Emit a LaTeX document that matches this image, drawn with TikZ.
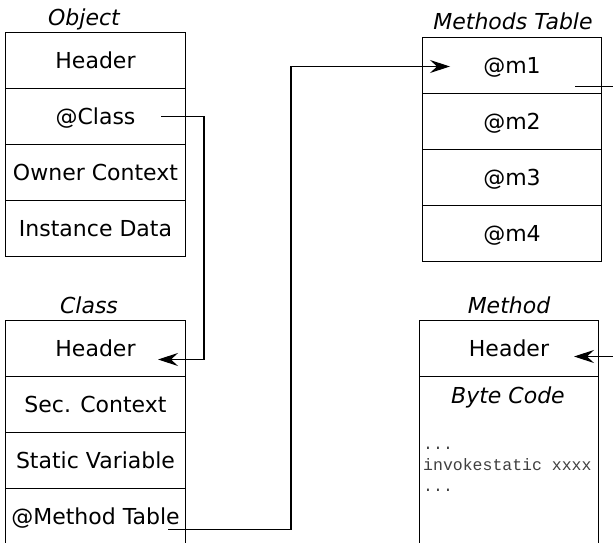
\documentclass[tikz,border=0pt]{standalone}
\usepackage{fontspec}
\setmainfont{DejaVu Sans}
\newfontfamily\codefont{Liberation Mono}
\usetikzlibrary{arrows.meta}

\begin{document}
\begin{tikzpicture}[x=1pt,y=-1pt,
  cell/.style={draw=black, line width=1pt, minimum width=180pt, minimum height=56pt,
    inner sep=0pt, anchor=north west, font=\fontsize{22}{26}\selectfont,
    text height=16pt, text depth=0pt},
  title/.style={anchor=base, inner sep=0pt, font=\fontsize{22}{26}\selectfont\itshape},
  code/.style={anchor=base west, inner sep=0pt, text=black!75,
    font=\codefont\fontsize{16.5}{21}\selectfont},
  link/.style={line width=1.1pt, -{Stealth[length=20pt,width=13pt,inset=7pt]}},
]
\clip (0,0) rectangle (613,543);

% Object
\node[title] (tobj) at (84,26) {Object};
\node[cell] (oh) at (5,32)  {Header};
\node[cell] (oc) at (5,88)  {@Class};
\node[cell] (oo) at (5,144) {Owner Context};
\node[cell] (oi) at (5,200) {Instance Data};

% Class
\node[title] (tcls) at (89,313) {Class};
\node[cell] (ch) at (5,320) {Header};
\node[cell] (cs) at (5,376) {Sec. Context};
\node[cell] (cv) at (5,432) {Static Variable};
\node[cell] (cm) at (5,488) {@Method Table};

% Methods table
\node[title] (tmt) at (513,30) {Methods Table};
\node[cell, minimum width=179pt] (m1) at (422,37)  {@m1};
\node[cell, minimum width=179pt] (m2) at (422,93)  {@m2};
\node[cell, minimum width=179pt] (m3) at (422,149) {@m3};
\node[cell, minimum width=179pt] (m4) at (422,205) {@m4};

% Method
\node[title] (tmeth) at (509,313) {Method};
\node[cell, minimum width=179pt] (mh) at (419,320) {Header};
\node[cell, minimum width=179pt, minimum height=200pt] (mb) at (419,376) {};
\node[title] (bc) at (508,403) {Byte Code};
\node[code] (c1) at (423,449) {...};
\node[code] (c2) at (423,470) {invokestatic xxxx};
\node[code] (c3) at (423,491) {...};

% References
\draw[link] ([xshift=-25pt]oc.east) -- ++(43,0) |- ([xshift=-28pt,yshift=-11pt]ch.east);
\draw[link] ([xshift=-18pt,yshift=-13pt]cm.east) -- ++(123,0) |- ([xshift=28pt,yshift=-1pt]m1.west);
\draw[link] ([xshift=-27pt,yshift=-21pt]m1.east) -- ++(56,0) |- ([xshift=-25pt,yshift=-8pt]mh.east);
\end{tikzpicture}
\end{document}
